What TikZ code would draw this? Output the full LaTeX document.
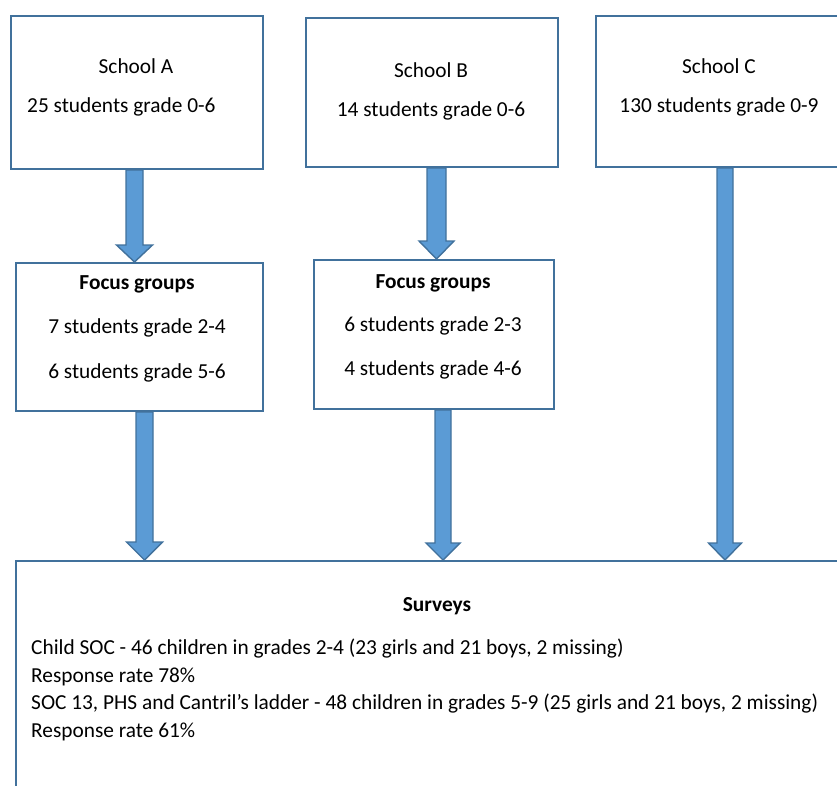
\documentclass[tikz,border=0pt]{standalone}
\usepackage{fontspec}
\setmainfont{Carlito}
\usetikzlibrary{calc}
\definecolor{boxline}{HTML}{41719C}
\definecolor{arrowfill}{HTML}{5B9BD5}
\tikzset{
  boxnode/.style={draw=boxline, line width=1.8pt, fill=white, rectangle, anchor=north west, inner sep=0pt},
  txt/.style={anchor=base, inner sep=0pt, font=\fontsize{21.35}{25}\selectfont},
  txtl/.style={txt, anchor=base west},
  txtb/.style={txt, font=\fontsize{21.35}{25}\selectfont\bfseries},
  barrowstyle/.style={draw=boxline, line width=1.4pt, fill=arrowfill, line join=miter}
}
% #1 x of arrow axis, #2 start anchor, #3 end anchor, #4 half shaft, #5 half head, #6 head length
\newcommand{\blockarrow}[6]{%
  \draw[barrowstyle] let \p1=(#2), \p2=(#3) in
    (#1-#4,\y1) -- (#1+#4,\y1) -- (#1+#4,\y2+#6) -- (#1+#5,\y2+#6) -- (#1,\y2)
    -- (#1-#5,\y2+#6) -- (#1-#4,\y2+#6) -- cycle;
}
\begin{document}
\begin{tikzpicture}[x=1pt,y=-1pt]
\useasboundingbox (0,0) rectangle (837,785);
\clip (0,0) rectangle (837,785);
% boxes
\node[boxnode, minimum width=252pt, minimum height=153pt] (sa) at (10,15) {};
\node[boxnode, minimum width=252pt, minimum height=149pt] (sb) at (305,17) {};
\node[boxnode, minimum width=248pt, minimum height=151pt] (sc) at (595,15) {};
\node[boxnode, minimum width=247pt, minimum height=148pt] (fa) at (15,262) {};
\node[boxnode, minimum width=240pt, minimum height=149pt] (fb) at (313,259) {};
\node[boxnode, minimum width=844pt, minimum height=300pt] (sv) at (15,560) {};
% texts
\node[txt] (saT) at (136,73) {School A};
\node[txtl] (saN) at (27,112) {25 students grade 0-6};
\node[txt] (sbT) at (431,77) {School B};
\node[txt] (sbN) at (431,116) {14 students grade 0-6};
\node[txt] (scT) at (719,73) {School C};
\node[txt] (scN) at (719,112) {130 students grade 0-9};
\node[txtb] (faT) at (137,289) {Focus groups};
\node[txt] (faN1) at (137,333) {7 students grade 2-4};
\node[txt] (faN2) at (137,378) {6 students grade 5-6};
\node[txtb] (fbT) at (433,288) {Focus groups};
\node[txt] (fbN1) at (433,331) {6 students grade 2-3};
\node[txt] (fbN2) at (433,375) {4 students grade 4-6};
\node[txtb] (svT) at (437,611) {Surveys};
\node[txtl] (sv1) at (31,654) {Child SOC - 46 children in grades 2-4 (23 girls and 21 boys, 2 missing)};
\node[txtl] (sv2) at (31,682) {Response rate 78\%};
\node[txtl] (sv3) at (31,709) {SOC 13, PHS and Cantril’s ladder - 48 children in grades 5-9 (25 girls and 21 boys, 2 missing)};
\node[txtl] (sv4) at (31,737) {Response rate 61\%};
% arrows
\blockarrow{134.5pt}{sa.south}{fa.north}{8.5pt}{18pt}{17pt}
\blockarrow{144.5pt}{fa.south}{sv.north}{8.5pt}{18pt}{18pt}
\blockarrow{436.5pt}{sb.south}{fb.north}{9.5pt}{17.5pt}{18pt}
\blockarrow{443pt}{fb.south}{sv.north}{8pt}{17pt}{17pt}
\blockarrow{725pt}{sc.south}{sv.north}{8pt}{16.5pt}{17pt}
\end{tikzpicture}
\end{document}
